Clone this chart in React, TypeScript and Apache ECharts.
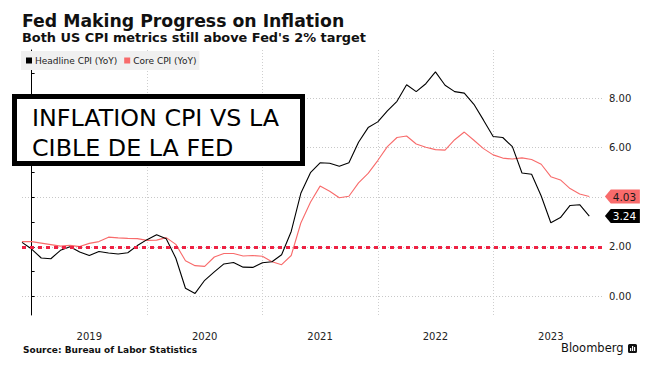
import React, { useEffect, useRef } from "react";
import * as echarts from "echarts";

const months = [
  "2018-11", "2018-12",
  "2019-01", "2019-02", "2019-03", "2019-04", "2019-05", "2019-06", "2019-07", "2019-08", "2019-09", "2019-10", "2019-11", "2019-12",
  "2020-01", "2020-02", "2020-03", "2020-04", "2020-05", "2020-06", "2020-07", "2020-08", "2020-09", "2020-10", "2020-11", "2020-12",
  "2021-01", "2021-02", "2021-03", "2021-04", "2021-05", "2021-06", "2021-07", "2021-08", "2021-09", "2021-10", "2021-11", "2021-12",
  "2022-01", "2022-02", "2022-03", "2022-04", "2022-05", "2022-06", "2022-07", "2022-08", "2022-09", "2022-10", "2022-11", "2022-12",
  "2023-01", "2023-02", "2023-03", "2023-04", "2023-05", "2023-06", "2023-07", "2023-08", "2023-09", "2023-10",
];

const headline = [
  2.18, 1.91,
  1.55, 1.52, 1.86, 2.0, 1.79, 1.65, 1.81, 1.75, 1.71, 1.76, 2.05, 2.29,
  2.49, 2.33, 1.54, 0.33, 0.12, 0.65, 0.99, 1.31, 1.37, 1.18, 1.17, 1.36,
  1.4, 1.68, 2.62, 4.16, 4.99, 5.39, 5.37, 5.25, 5.39, 6.22, 6.81, 7.04,
  7.48, 7.87, 8.54, 8.26, 8.58, 9.06, 8.52, 8.26, 8.2, 7.75, 7.11, 6.45,
  6.41, 6.04, 4.98, 4.93, 4.05, 2.97, 3.18, 3.67, 3.7, 3.24,
];

const core = [
  2.21, 2.21,
  2.15, 2.09, 2.03, 2.06, 2.01, 2.14, 2.21, 2.39, 2.36, 2.34, 2.33, 2.26,
  2.27, 2.37, 2.1, 1.44, 1.24, 1.21, 1.59, 1.73, 1.73, 1.63, 1.65, 1.62,
  1.4, 1.28, 1.65, 2.96, 3.8, 4.45, 4.24, 3.98, 4.04, 4.58, 4.96, 5.48,
  6.04, 6.41, 6.47, 6.15, 6.02, 5.92, 5.9, 6.32, 6.63, 6.3, 5.96, 5.71,
  5.58, 5.54, 5.59, 5.52, 5.33, 4.83, 4.7, 4.35, 4.13, 4.03,
];

const years = ["2019", "2020", "2021", "2022", "2023"];
const yGridValues = [0, 2, 4, 6, 8];
const yLabelValues = [0, 2, 6, 8]; // 4.00 sits under the last-value tag
const yTickValues = [0, 1, 2, 3, 4, 5, 6, 7, 8, 9];
const fedTarget = 2;
const seriesNames = ["Headline CPI (YoY)", "Core CPI (YoY)"];

// month-end position in months, Jan 1 2019 = 0
const monthPos = (m: string) => {
  const [y, mo] = m.split("-").map(Number);
  return (y - 2019) * 12 + mo;
};
const yearStart = (y: string) => (Number(y) - 2019) * 12;

const X_MIN = -1;
const X_MAX = 59.53;
const FONT = "DejaVu Sans";

export default function App() {
  const ref = useRef<HTMLDivElement>(null);
  useEffect(() => {
    if (!ref.current) return;
    const chart = echarts.init(ref.current, undefined, { renderer: "svg" });
    const yearStarts = years.map(yearStart);
    const yearMids = years.map((y) => yearStart(y) + 6);
    const tag = (value: number, bg: string, fg: string) => ({
      symbol: "path://M0,7L6,0L36,0L36,14L6,14Z",
      symbolSize: [35, 14],
      symbolOffset: [18.5, 0],
      silent: true,
      data: [
        {
          coord: [X_MAX - 0.01, value],
          value,
          itemStyle: { color: bg },
          label: {
            show: true,
            position: "inside",
            offset: [2, 0],
            formatter: () => value.toFixed(2),
            color: fg,
            fontSize: 10.5,
            fontFamily: FONT,
          },
        },
      ],
    });
    const option: any = {
      animation: false,
      backgroundColor: "#ffffff",
      grid: { left: 22, right: 59, top: 50, bottom: 63 },
      legend: {
        left: 21,
        top: 51,
        backgroundColor: "#f0f0f0",
        padding: [5, 3, 5, 5],
        itemWidth: 6,
        itemHeight: 6,
        itemGap: 7,
        icon: "rect",
        data: seriesNames,
        textStyle: { fontSize: 9, fontFamily: FONT, color: "#222", padding: [0, 0, 0, -2] },
      },
      xAxis: {
        type: "value",
        min: X_MIN,
        max: X_MAX,
        axisLine: { show: false },
        axisTick: { show: false, customValues: yearStarts },
        splitLine: { show: true, lineStyle: { color: "#cfcfcf", width: 1, type: [1, 2] } },
        axisLabel: {
          customValues: yearMids,
          formatter: (v: number) => years[Math.round((v - 6) / 12)] ?? "",
          margin: 16,
          color: "#222",
          fontSize: 10,
          fontFamily: FONT,
        },
      },
      yAxis: [
        {
          type: "value",
          position: "right",
          min: -0.75,
          max: 9.94,
          axisLine: { show: true, lineStyle: { color: "#000", width: 1 } },
          axisTick: { show: true, customValues: yTickValues, length: 3, lineStyle: { color: "#000" } },
          axisLabel: {
            customValues: yLabelValues,
            formatter: (v: number) => v.toFixed(2),
            margin: 5,
            color: "#222",
            fontSize: 10,
            fontFamily: FONT,
          },
          splitLine: { show: false },
        },
        {
          type: "value",
          position: "right",
          min: -0.75,
          max: 9.94,
          axisLine: { show: false },
          axisTick: { show: false, customValues: yGridValues },
          axisLabel: { show: false },
          splitLine: { show: true, lineStyle: { color: "#c8c8c8", width: 1, type: [1, 2] } },
        },
      ],
      series: [
        {
          name: seriesNames[1],
          type: "line",
          yAxisIndex: 0,
          showSymbol: false,
          symbol: "none",
          color: "#f86b6b",
          lineStyle: { width: 1.1, color: "#f86b6b" },
          data: months.map((m, i) => [monthPos(m), core[i]]),
          markPoint: tag(core[core.length - 1], "#f86b6b", "#1a1a1a"),
          z: 2,
        },
        {
          name: seriesNames[0],
          type: "line",
          yAxisIndex: 0,
          showSymbol: false,
          symbol: "none",
          color: "#000",
          lineStyle: { width: 1.1, color: "#000" },
          data: months.map((m, i) => [monthPos(m), headline[i]]),
          markPoint: tag(headline[headline.length - 1], "#000", "#ffffff"),
          markLine: {
            silent: true,
            symbol: "none",
            label: { show: false },
            lineStyle: { color: "#ee2244", width: 3, type: [4, 4] },
            data: [{ yAxis: fedTarget }],
          },
          z: 3,
        },
      ],
      graphic: [
        {
          type: "text",
          x: 22,
          y: 21,
          style: {
            text: "Fed Making Progress on Inflation",
            font: `bold 17.3px ${FONT}`,
            fill: "#111",
            verticalAlign: "middle",
          },
        },
        {
          type: "text",
          x: 22,
          y: 37.5,
          style: {
            text: "Both US CPI metrics still above Fed's 2% target",
            font: `bold 12.9px ${FONT}`,
            fill: "#111",
            verticalAlign: "middle",
          },
        },
        {
          type: "text",
          x: 23,
          y: 349.5,
          style: {
            text: "Source: Bureau of Labor Statistics",
            font: `bold 9px ${FONT}`,
            fill: "#111",
            verticalAlign: "middle",
          },
        },
        {
          type: "text",
          x: 561,
          y: 348,
          style: { text: "Bloomberg", font: `11.5px ${FONT}`, fill: "#111", verticalAlign: "middle" },
        },
        {
          type: "group",
          left: 628,
          top: 344,
          children: [
            { type: "rect", shape: { x: 0, y: 0, width: 9, height: 9, r: 1.5 }, style: { fill: "#111" } },
            { type: "rect", shape: { x: 2, y: 4, width: 1.2, height: 3 }, style: { fill: "#fff" } },
            { type: "rect", shape: { x: 4, y: 2, width: 1.2, height: 5 }, style: { fill: "#fff" } },
            { type: "rect", shape: { x: 6, y: 3, width: 1.2, height: 4 }, style: { fill: "#fff" } },
          ],
        },
        {
          type: "rect",
          shape: { x: 14.5, y: 96.5, width: 288, height: 67 },
          style: { fill: "#fff", stroke: "#000", lineWidth: 5 },
          z: 100,
        },
        {
          type: "text",
          x: 32,
          y: 117.5,
          style: {
            text: "INFLATION CPI VS LA",
            font: `23.8px 'Comic Sans MS', ${FONT}`,
            fill: "#000",
            verticalAlign: "middle",
          },
          z: 101,
        },
        {
          type: "text",
          x: 32,
          y: 148,
          style: {
            text: "CIBLE DE LA FED",
            font: `23.8px 'Comic Sans MS', ${FONT}`,
            fill: "#000",
            verticalAlign: "middle",
          },
          z: 101,
        },
      ],
    };
    chart.setOption(option);
    return () => chart.dispose();
  }, []);
  return <div ref={ref} style={{ width: 663, height: 378, position: "absolute", left: 0, top: 0 }} />;
}
